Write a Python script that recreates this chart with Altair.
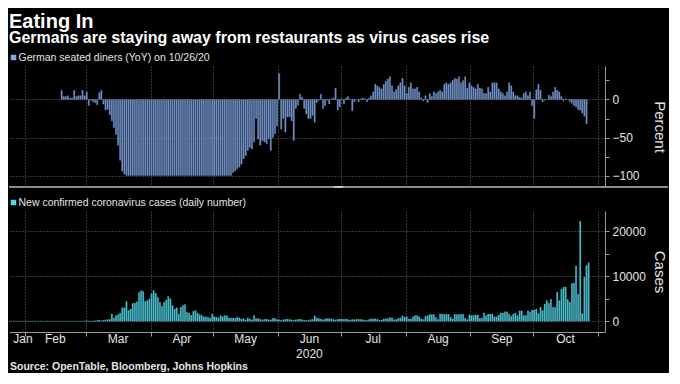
import altair as alt
import pandas as pd

# ---------------- data ----------------
# German seated diners, YoY %, daily from 2020-02-18 to 2020-10-26
diners_feb = [12, 4, 4, 5, 2, 2, 12, 4, 5, 5, 12, 5]
diners_mar = [10, -8, -1, -3, -4, -7, 9, 12, -6, -14, -13, -20, -28, -37, -46, -60, -80, -94, -98,
              -100, -100, -100, -100, -100, -100, -100, -100, -100, -100, -100, -100]
diners_apr = [-100] * 30
diners_may = [-100, -100, -100, -100, -100, -100, -100, -100, -100,
              -96, -94, -91, -89, -85, -78, -74, -67, -63, -65, -56, -25,
              -52, -60, -54, -56, -58, -52, -67, -50, -45, -35]
diners_jun = [34, -39, -25, -43, -23, -23, -28, -54, -12, -8, 7, 3, -12, -19, -25,
              -25, -21, -30, -4, -1, 7, -12, -8, -1, -6, 1, 2, 15, -14, -10]
diners_jul = [1, -6, 2, 4, 0, -15, -3, 0, -3, 1, 2, 1, -3, 2, 5, 10, 20, 18, 16, 14,
              20, 24, 27, 30, 18, 10, 13, 18, 22, 28, 18]
diners_aug = [8, 16, 22, 14, 14, 16, 10, 2, -2, 5, -4, 8, 4, 10, 8, 10, 12, 10, 20, 22,
              20, 22, 25, 28, 27, 30, 22, 25, 30, 15, 22]
diners_sep = [18, 16, 14, 20, 15, 14, 8, 8, 16, 10, 22, 22, 22, 14, 10, 8, 5, 10, 22, 18,
              10, 5, 5, 3, 2, 8, 10, 5, 10, -8]
diners_oct = [-25, 13, 20, 12, -3, -1, 0, 6, 4, 10, 16, 12, 10, 4, -2, 1, 0, -3, -5, -8,
              -10, -13, -14, -18, -22, -32]
diners = (diners_feb + diners_mar + diners_apr + diners_may + diners_jun + diners_jul
          + diners_aug + diners_sep + diners_oct)

# New confirmed coronavirus cases, daily from 2020-01-22 to 2020-10-27
cases_jan = [0, 0, 0, 0, 0, 1, 3, 0, 0, 1]
cases_feb = [3, 2, 0, 2, 0, 2, 0, 0, 1, 0, 0, 1, 0, 0, 0, 0, 0, 0, 0, 0, 0, 0, 0, 0,
             2, 10, 28, 9, 31]
cases_mar = [100, 50, 30, 60, 100, 150, 250, 100, 250, 300, 350, 400, 1600, 700, 1250,
             1500, 1800, 3000, 3000, 4400, 2400, 2700, 4000, 4000, 4300, 6400, 6800,
             6600, 4400, 4600, 5000]
cases_apr = [6100, 6800, 6200, 5300, 4200, 3300, 4200, 4700, 5500, 5000, 3500, 2700,
             3000, 1600, 3100, 3500, 3700, 2000, 1800, 1300, 2200, 2400, 1800, 1500,
             1300, 1000, 1000, 900, 700, 1600]
cases_may = [1000, 900, 750, 1250, 1000, 1250, 1200, 750, 700, 700, 600, 900, 750, 500,
             600, 300, 750, 500, 300, 1250, 600, 600, 450, 300, 450, 500, 300, 300, 650,
             650, 400]
cases_jun = [300, 200, 350, 400, 500, 400, 300, 200, 350, 400, 500, 350, 200, 150, 200,
             350, 400, 1200, 700, 600, 500, 300, 500, 600, 600, 500, 400, 300, 450, 500]
cases_jul = [500, 450, 500, 400, 250, 400, 350, 400, 450, 400, 300, 200, 200, 400, 550,
             500, 550, 450, 250, 250, 500, 550, 600, 800, 750, 350, 400, 600, 700, 1200,
             900]
cases_aug = [1000, 500, 500, 1000, 1250, 1250, 1000, 500, 400, 1100, 1250, 1500, 1500,
             1500, 800, 400, 1650, 1600, 1500, 1550, 1550, 900, 500, 1550, 1500, 1500,
             1550, 1550, 650, 350, 1400]
cases_sep = [1250, 1300, 1400, 1400, 650, 700, 1850, 1250, 1600, 1600, 1600, 1000, 1000,
             1400, 1850, 1850, 2100, 2100, 1600, 1100, 1600, 1850, 1250, 2300, 2300,
             1250, 1250, 2300, 2000, 2500]
cases_oct = [2500, 2700, 1700, 3100, 2400, 3800, 4600, 4000, 4900, 3100, 3100, 6500,
             4600, 7100, 7600, 7600, 4800, 4200, 8400, 8500, 12300, 6000, 22200, 1700,
             9800, 12400, 13000]
cases = (cases_jan + cases_feb + cases_mar + cases_apr + cases_may + cases_jun + cases_jul
         + cases_aug + cases_sep + cases_oct)

month_labels = ["Jan", "Feb", "Mar", "Apr", "May", "Jun", "Jul", "Aug", "Sep", "Oct"]
year_label = "2020"
diner_ticks = [-100, -75, -50, -25, 0, 25]
case_ticks = [0, 5000, 10000, 15000, 20000]

TITLE = "Eating In"
SUBTITLE = "Germans are staying away from restaurants as virus cases rise"
LEG1 = "German seated diners (YoY) on 10/26/20"
LEG2 = "New confirmed coronavirus cases (daily number)"
SOURCE = "Source: OpenTable, Bloomberg, Johns Hopkins"

# ---------------- tables ----------------
def day_centres(start, n):
    d = pd.date_range(start, periods=n, freq="D") + pd.Timedelta(hours=12)
    return d.strftime("%Y-%m-%dT%H:%M:%S")

diner_df = pd.DataFrame({"date": day_centres("2020-02-18", len(diners)), "value": diners})
case_df = pd.DataFrame({"date": day_centres("2020-01-22", len(cases)), "value": cases})

starts = pd.date_range("2020-01-01", periods=11, freq="MS")
mids = []
for i in range(10):
    a, b = starts[i], starts[i + 1]
    m = a + (b - a) / 2
    if i == 0:
        m = b - pd.Timedelta(days=1)
    mids.append(m.strftime("%Y-%m-%dT%H:%M:%S"))
month_df = pd.DataFrame({"date": mids, "label": month_labels})
year_df = pd.DataFrame({"date": [mids[5]], "label": [year_label]})
one = pd.DataFrame({"k": [0]})

# ---------------- styling ----------------
FONT = "Liberation Sans, Arial, sans-serif"
TXT = "#e4e4e4"
GRID = "#6a6a6a"
AXC = "#9a9a9a"
DINER_C = "#7090c4"
DINER_L = "#86a6dc"
CASE_C = "#4bbccb"
CASE_L = "#5fd3e3"
W, H = 596, 121
LEG_Y = -8.5

xscale = alt.Scale(domain=[alt.DateTime(year=2020, month=1, date=24, hours=8),
                           alt.DateTime(year=2020, month=11, date=4, hours=8)],
                   padding=0)
month_ticks = [alt.DateTime(year=2020, month=m, date=1) for m in range(2, 12)]

top_x_axis = alt.Axis(values=month_ticks, grid=True, gridDash=[1, 2], gridColor=GRID,
                      labels=False, ticks=False, domain=False, title=None)
bot_x_axis = alt.Axis(values=month_ticks, grid=True, gridDash=[1, 2], gridColor=GRID,
                      labels=False, ticks=True, tickSize=4, tickColor=AXC,
                      domain=True, domainColor=AXC, title=None)


def y_axis(vals, step, title, pad):
    return alt.Axis(orient="right", values=vals, format="d",
                    labelExpr=f"datum.value % {step} == 0 ? datum.label : ''",
                    grid=True, gridDash=[1, 2], gridColor=GRID,
                    gridOpacity={"condition": {"test": f"datum.value % {step} == 0", "value": 1},
                                 "value": 0},
                    tickSize=4, tickColor=AXC, domainColor=AXC, labelColor=TXT,
                    labelFont=FONT, labelFontSize=12, labelPadding=3,
                    title=title, titleFont=FONT, titleFontSize=15, titleFontWeight="normal",
                    titleColor=TXT, titlePadding=pad)


def legend(text, colour):
    sq = alt.Chart(one).mark_square(size=30, color=colour, opacity=1).encode(
        x=alt.value(4.5), y=alt.value(LEG_Y))
    tx = alt.Chart(one).mark_text(text=text, font=FONT, fontSize=10.5, color=TXT,
                                  align="left", baseline="middle").encode(
        x=alt.value(9.5), y=alt.value(LEG_Y))
    return sq, tx


# ---------------- top panel ----------------
top_bars = alt.Chart(diner_df).mark_bar(width=1.4, color=DINER_C, stroke=DINER_C,
                                        strokeWidth=0.3, clip=True).encode(
    x=alt.X("date:T", scale=xscale, axis=top_x_axis),
    y=alt.Y("value:Q", scale=alt.Scale(domain=[-115, 44], nice=False),
            axis=y_axis(diner_ticks, 50, "Percent", 12)),
)
sep = alt.Chart(one).mark_rule(color="#8a8a8a", strokeWidth=2).encode(
    x=alt.value(0), x2=alt.value(659), y=alt.value(H))
handle = alt.Chart(one).mark_rule(color="#c8c8c8", strokeWidth=2).encode(
    x=alt.value(325), x2=alt.value(334), y=alt.value(H))
sq1, tx1 = legend(LEG1, DINER_L)
top = alt.layer(top_bars, sep, handle, sq1, tx1).properties(width=W, height=H)

# ---------------- bottom panel ----------------
bot_bars = alt.Chart(case_df).mark_bar(width=1.4, color=CASE_C, stroke=CASE_C,
                                       strokeWidth=0.3, clip=True).encode(
    x=alt.X("date:T", scale=xscale, axis=bot_x_axis),
    y=alt.Y("value:Q", scale=alt.Scale(domain=[-2400, 24500], nice=False),
            axis=y_axis(case_ticks, 10000, "Cases", 6)),
)
mlab = alt.Chart(month_df).mark_text(font=FONT, fontSize=12, color=TXT, baseline="top").encode(
    x=alt.X("date:T", scale=xscale), y=alt.value(H + 2), text="label:N")
ylab = alt.Chart(year_df).mark_text(font=FONT, fontSize=12, color=TXT, baseline="top").encode(
    x=alt.X("date:T", scale=xscale), y=alt.value(H + 17), text="label:N")
src = alt.Chart(one).mark_text(text=SOURCE, font=FONT, fontSize=10.5, fontWeight="bold",
                               color=TXT, align="left", baseline="top").encode(
    x=alt.value(1), y=alt.value(H + 30))
sq2, tx2 = legend(LEG2, CASE_L)
bottom = alt.layer(bot_bars, mlab, ylab, src, sq2, tx2).properties(width=W, height=H)

chart = alt.vconcat(top, bottom, spacing=9).properties(
    title=alt.TitleParams(TITLE, subtitle=SUBTITLE, anchor="start", frame="group",
                          font=FONT, fontSize=20, fontWeight="bold", color="#ffffff",
                          subtitleFont=FONT, subtitleFontSize=16,
                          subtitleFontWeight="bold", subtitleColor="#ffffff",
                          subtitlePadding=-1.5, offset=6.5),
    padding={"top": 3, "left": 0, "right": 0, "bottom": 0},
    background="black",
).configure_view(strokeWidth=0)

chart.save("out.html", embed_options={"renderer": "svg", "actions": False})
